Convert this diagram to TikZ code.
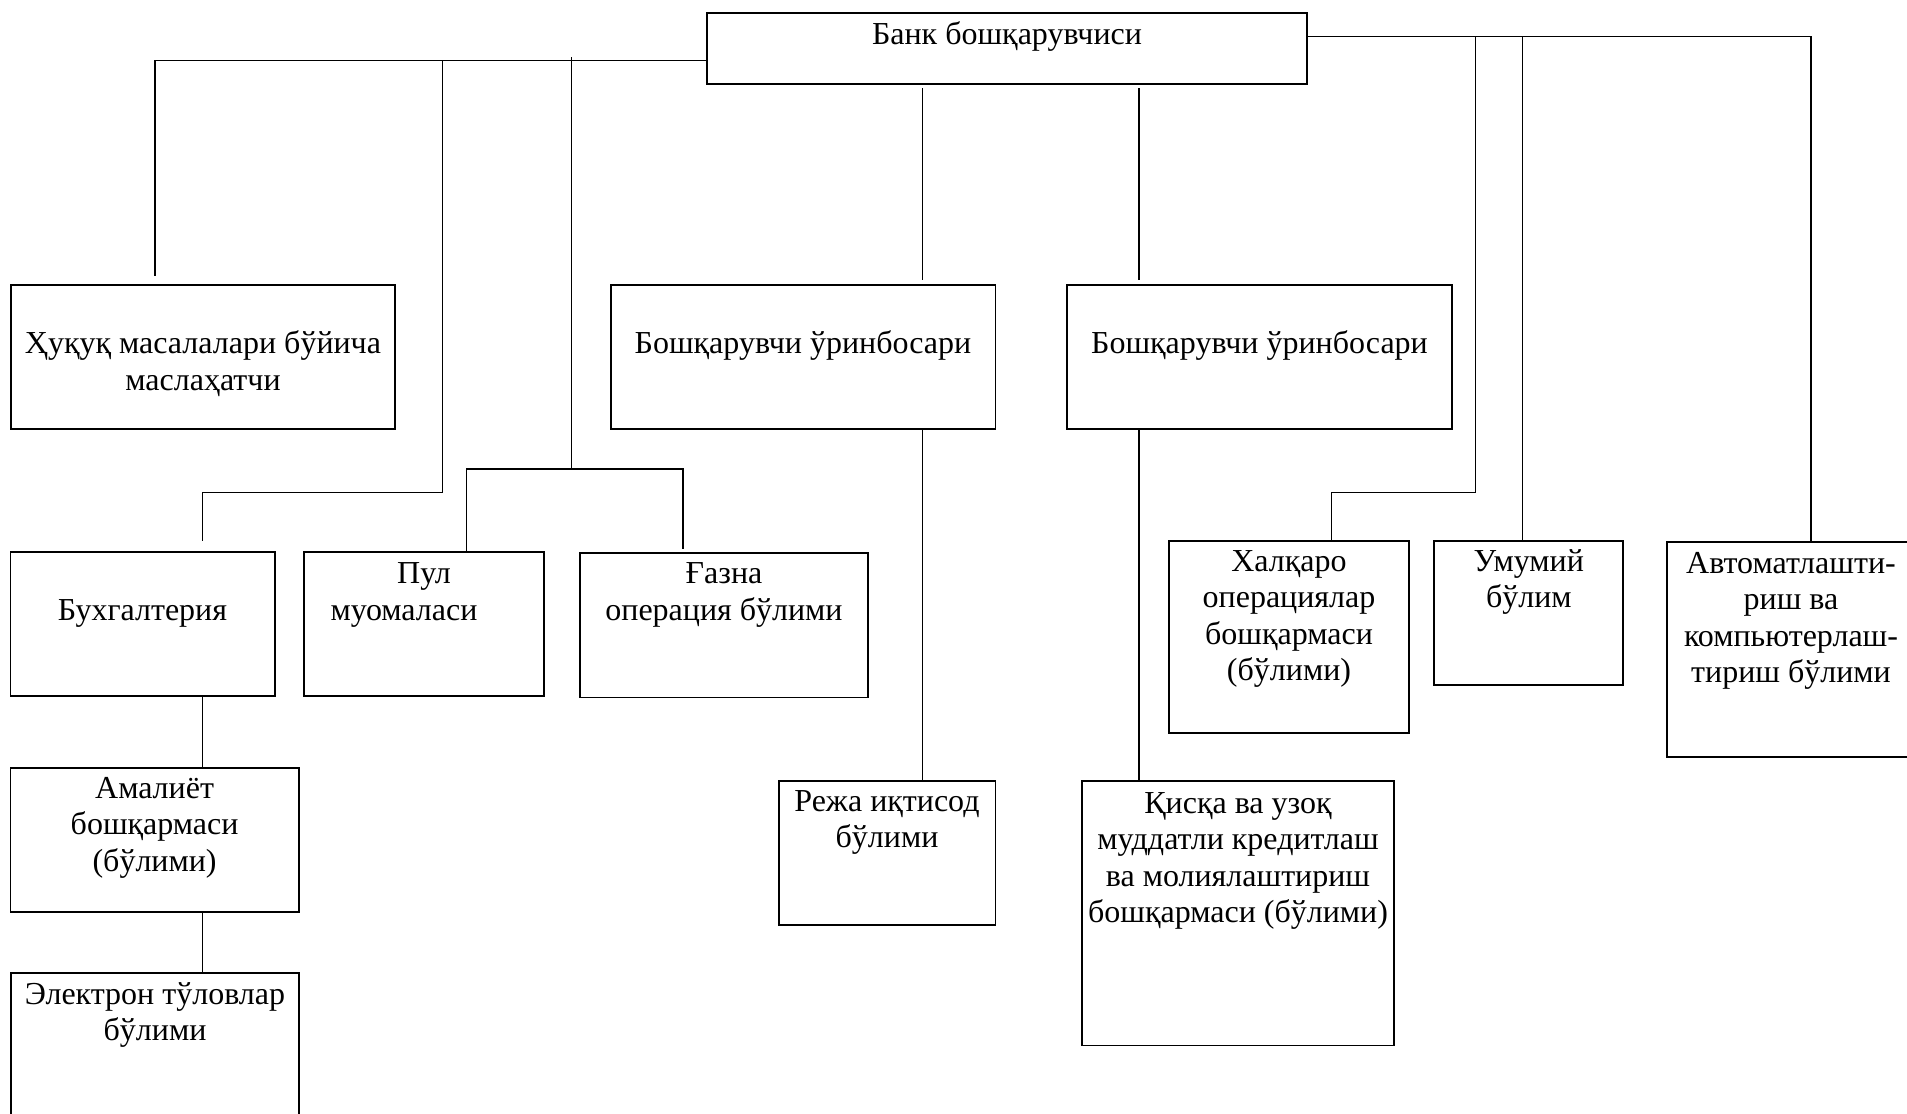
\documentclass[tikz,border=0pt]{standalone}
\usepackage{fontspec}
\setmainfont{Liberation Serif}
\usetikzlibrary{fit}
\begin{document}
\begin{tikzpicture}[x=0.5pt,y=-0.5pt,
  box/.style={draw, line width=0.9pt, inner sep=0pt, rectangle},
  link/.style={draw, line width=0.65pt},
  lbl/.style={inner sep=0pt, align=center, anchor=north,
              font=\fontsize{16}{18.25}\selectfont}]
\useasboundingbox (0,0) rectangle (1907,1114);

% boxes (corner to corner)
\node[box, fit={(706.7,13.2) (1307.3,84.3)}] (top) {};
\node[box, fit={(11,285) (395,428.6)}] (huquq) {};
\node[box, fit={(611,285) (995.4,428.6)}] (dep1) {};
\node[box, fit={(1067,285) (1451.6,428.6)}] (dep2) {};
\node[box, fit={(10.4,551.7) (275,696)}] (buh) {};
\node[box, fit={(304,551.7) (544,696)}] (pul) {};
\node[box, fit={(580,552.7) (868,697.4)}] (gazna) {};
\node[box, fit={(10.4,767.7) (298.8,912)}] (amal) {};
\node[box, fit={(11,973) (299,1140)}] (elek) {};
\node[box, fit={(779,780.8) (995.4,925)}] (reja) {};
\node[box, fit={(1081.7,780.8) (1394,1045.5)}] (qisqa) {};
\node[box, fit={(1169,541) (1409,733)}] (xalq) {};
\node[box, fit={(1434,541) (1623,685)}] (umum) {};
\node[box, fit={(1666.7,542) (1930,757)}] (avto) {};

% texts
\node[lbl] (tTop) at (1007,18.05) {\strut Банк бошқарувчиси};
\node[lbl] (tHuquq) at (203,328) {\strut Ҳуқуқ масалалари бўйича\\маслаҳатчи};
\node[lbl] (tDep1) at (803,328) {\strut Бошқарувчи ўринбосари};
\node[lbl] (tDep2) at (1259.5,328) {\strut Бошқарувчи ўринбосари};
\node[lbl] (tBuh) at (142.5,594.3) {\strut Бухгалтерия};
\node[lbl] (tPul) at (424,557.7) {\strut Пул\\муомаласи\hspace*{20pt}};
\node[lbl] (tGazna) at (724,557.7) {\strut Ғазна\\операция бўлими};
\node[lbl] (tAmal) at (154.6,772.5) {\strut Амалиёт\\бошқармаси\\(бўлими)};
\node[lbl] (tElek) at (155,978.5) {\strut Электрон тўловлар\\бўлими};
\node[lbl] (tReja) at (887,785.4) {\strut Режа иқтисод\\бўлими};
\node[lbl] (tQisqa) at (1238,787.2) {\strut Қисқа ва узоқ\\муддатли кредитлаш\\ва молиялаштириш\\бошқармаси (бўлими)};
\node[lbl] (tXalq) at (1289,545.5) {\strut Халқаро\\операциялар\\бошқармаси\\(бўлими)};
\node[lbl] (tUmum) at (1528.8,545.5) {\strut Умумий\\бўлим};
\node[lbl] (tAvto) at (1791,547.2) {\strut Автоматлашти-\\риш ва\\компьютерлаш-\\тириш бўлими};

% helper coordinates for the connector routes
\coordinate (yL) at (0,60.7);
\coordinate (yR) at (0,36.2);
\coordinate (yb) at (0,492.7);
\coordinate (yc) at (0,469);
\coordinate (xq) at (155,0);
\coordinate (xb) at (442.7,0);
\coordinate (xbb) at (202.7,0);
\coordinate (xp) at (466.7,0);
\coordinate (xg) at (683,0);
\coordinate (xd1) at (922.7,0);
\coordinate (xd2) at (1139,0);
\coordinate (xx) at (1475.3,0);
\coordinate (xxx) at (1331.5,0);
\coordinate (xu) at (1522.7,0);
\coordinate (xa) at (1811,0);
\coordinate (c1) at (571.7,57.3);

% left bus
\draw[link, shorten >=4pt] (top.west |- yL) -| (huquq.north -| xq);
\draw[link, shorten >=5pt] (xb |- yL) |- (xbb |- yb) -- (buh.north -| xbb);
\draw[link] (c1) -- (c1 |- yc);
\draw[link, shorten >=1.5pt] (pul.north -| xp) |- (xg |- yc) -- (gazna.north -| xg);
\draw[link] (buh.south -| xbb) -- (amal.north -| xbb);
\draw[link] (amal.south -| xbb) -- (elek.north -| xbb);

% deputies
\draw[link, shorten <=1.5pt, shorten >=2pt] (top.south -| xd1) -- (dep1.north -| xd1);
\draw[link] (dep1.south -| xd1) -- (reja.north -| xd1);
\draw[link, shorten <=1.5pt, shorten >=2pt] (top.south -| xd2) -- (dep2.north -| xd2);
\draw[link] (dep2.south -| xd2) -- (qisqa.north -| xd2);

% right bus
\draw[link] (top.east |- yR) -| (avto.north -| xa);
\draw[link] (xx |- yR) |- (xxx |- yb) -- (xalq.north -| xxx);
\draw[link] (xu |- yR) -- (umum.north -| xu);
\end{tikzpicture}
\end{document}
